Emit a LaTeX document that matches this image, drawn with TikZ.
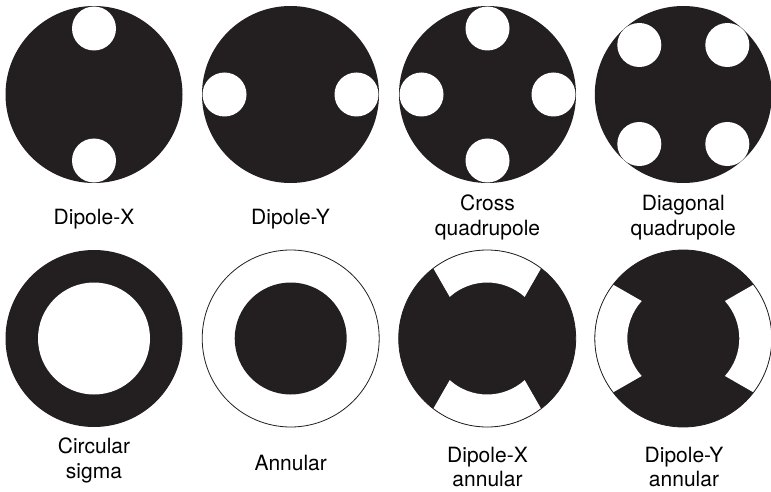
\documentclass[tikz,border=0pt]{standalone}
\usepackage{fontspec}
\setmainfont{TeX Gyre Heros}
\usetikzlibrary{positioning}
\definecolor{ink}{HTML}{231F20}

\begin{document}
\begin{tikzpicture}[x=1pt, y=1pt, font=\fontsize{21}{24.3}\selectfont,
  lbl/.style={align=center, inner sep=0pt, anchor=base},
  rim/.style={draw=ink, line width=0.8pt}]
  \useasboundingbox (0,0) rectangle (771,491);
  \def\apR{88.5}   % aperture radius
  \def\poleR{22}   % pole radius
  \def\poleD{66}   % pole offset from centre
  \def\ringR{56}   % inner radius of annulus
  \def\outA{37.5}  % half width of annular pole, outer edge
  \def\inA{42}     % half width of annular pole, inner edge

  %% ── Top row: pole apertures ───────────────────────────────
  %% Dipole-X
  \begin{scope}[shift={(94,396.5)}]
    \fill[ink] (0,0) circle (\apR);
    \foreach \a in {90,270}
      \fill[white] (\a:\poleD) circle (\poleR);
  \end{scope}
  %% Dipole-Y
  \begin{scope}[shift={(290.5,396.5)}]
    \fill[ink] (0,0) circle (\apR);
    \foreach \a in {0,180}
      \fill[white] (\a:\poleD) circle (\poleR);
  \end{scope}
  %% Cross quadrupole
  \begin{scope}[shift={(487.5,396.5)}]
    \fill[ink] (0,0) circle (\apR);
    \foreach \a in {0,90,180,270}
      \fill[white] (\a:\poleD) circle (\poleR);
  \end{scope}
  %% Diagonal quadrupole
  \begin{scope}[shift={(683.3,396.5)}]
    \fill[ink] (0,0) circle (\apR);
    \foreach \sx/\sy in {1/1,-1/1,-1/-1,1/-1}
      \fill[white] (\sx*44,\sy*49.5) circle (\poleR);
  \end{scope}

  %% ── Bottom row: ring apertures ────────────────────────────
  %% Circular sigma
  \begin{scope}[shift={(94,152.5)}]
    \fill[ink] (0,0) circle (\apR);
    \fill[white] (0,0) circle (\ringR);
  \end{scope}
  %% Annular
  \begin{scope}[shift={(290.7,152.5)}]
    \fill[ink] (0,0) circle (\ringR);
    \draw[rim] (0,0) circle (\apR);
  \end{scope}
  %% Dipole-X annular
  \begin{scope}[shift={(487.2,152.5)}]
    \fill[ink] (0,0) circle (\apR);
    \foreach \a in {90,270}
      \fill[white] (\a-\outA:\apR)
        arc[start angle=\a-\outA, end angle=\a+\outA, radius=\apR]
        -- (\a+\inA:\ringR)
        arc[start angle=\a+\inA, end angle=\a-\inA, radius=\ringR] -- cycle;
    \draw[rim] (0,0) circle (\apR);
  \end{scope}
  %% Dipole-Y annular
  \begin{scope}[shift={(683.3,152.5)}]
    \fill[ink] (0,0) circle (\apR);
    \foreach \a in {0,180}
      \fill[white] (\a-\outA:\apR)
        arc[start angle=\a-\outA, end angle=\a+\outA, radius=\apR]
        -- (\a+\inA:\ringR)
        arc[start angle=\a+\inA, end angle=\a-\inA, radius=\ringR] -- cycle;
    \draw[rim] (0,0) circle (\apR);
  \end{scope}

  %% ── Labels (base = last line) ─────────────────────────────
  \node[lbl] (dipx)  at (94,267)    {Dipole-X};
  \node[lbl] (dipy)  at (290.5,267) {Dipole-Y};
  \node[lbl] (cross) at (487.5,256) {Cross\\quadrupole};
  \node[lbl] (diag)  at (683.3,256) {Diagonal\\quadrupole};
  \node[lbl] (sigma) at (94,13)     {Circular\\sigma};
  \node[lbl] (annul) at (290.7,21)  {Annular};
  \node[lbl] (dipxa) at (487.5,4.3) {Dipole-X\\annular};
  \node[lbl] (dipya) at (684,4.3)   {Dipole-Y\\annular};
\end{tikzpicture}
\end{document}
